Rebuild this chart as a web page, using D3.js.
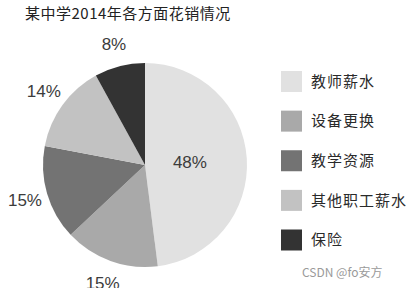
<!DOCTYPE html>
<html><head><meta charset="utf-8">
<script src="https://cdn.jsdelivr.net/npm/d3@7"></script>
<style>body{margin:0;background:#fff}svg{display:block}</style>
</head><body>
<svg id="c" width="408" height="288"></svg>
<script>
const categories = ["教师薪水","设备更换","教学资源","其他职工薪水","保险"];
const values = [48, 15, 15, 14, 8];
const colors = ["#e1e1e1","#a9a9a9","#737373","#c2c2c2","#333333"];
const title = "某中学2014年各方面花销情况";
const watermark = "CSDN @fo安方";

const svg = d3.select("#c");
const cx = 145, cy = 165, r = 102;
const color = d3.scaleOrdinal().domain(categories).range(colors);
const pie = d3.pie().sort(null).value(d => d.v);
const data = categories.map((c,i)=>({c, v: values[i]}));
const arcs = pie(data);
const arc = d3.arc().innerRadius(0).outerRadius(r);
const g = svg.append("g").attr("transform",`translate(${cx},${cy})`);
g.selectAll("path").data(arcs).join("path")
  .attr("d", arc).attr("fill", d=>color(d.data.c));

const inArc = d3.arc().innerRadius(90).outerRadius(0);
const outArc = d3.arc().innerRadius(250).outerRadius(0);
g.selectAll("text.lbl").data(arcs).join("text")
  .attr("class","lbl")
  .attr("transform", (d,i) => {
    const p = i===0 ? inArc.centroid(d) : outArc.centroid(d);
    return `translate(${p[0]},${p[1]})`;
  })
  .attr("text-anchor","middle").attr("dy","0.35em")
  .style("font-family","'Liberation Sans', Arial, sans-serif")
  .style("font-size","17px").attr("fill","#3c3c3c")
  .text(d => d.data.v + "%");

svg.append("text").attr("x",25).attr("y",19)
  .style("font-family","'Noto Sans CJK SC'").style("font-size","15px")
  .style("letter-spacing","0.5px").attr("fill","#222").text(title);

const ly = d3.scalePoint().domain(categories).range([81.5, 240]);
const lg = svg.append("g");
lg.selectAll("rect").data(categories).join("rect")
  .attr("x",281).attr("y",d=>ly(d)-10.5).attr("width",21).attr("height",21)
  .attr("fill",d=>color(d));
lg.selectAll("text").data(categories).join("text")
  .attr("x",311).attr("y",d=>ly(d)).attr("dy","0.35em")
  .style("font-family","'Noto Sans CJK SC'").style("font-size","15px")
  .style("letter-spacing","1px").attr("fill","#2a2a2a").text(d=>d);

svg.append("text").attr("x",302).attr("y",277)
  .style("font-family","'Noto Sans CJK SC', sans-serif").style("font-size","12px")
  .attr("fill","#9a9a9a").text(watermark);
</script>
</body></html>
